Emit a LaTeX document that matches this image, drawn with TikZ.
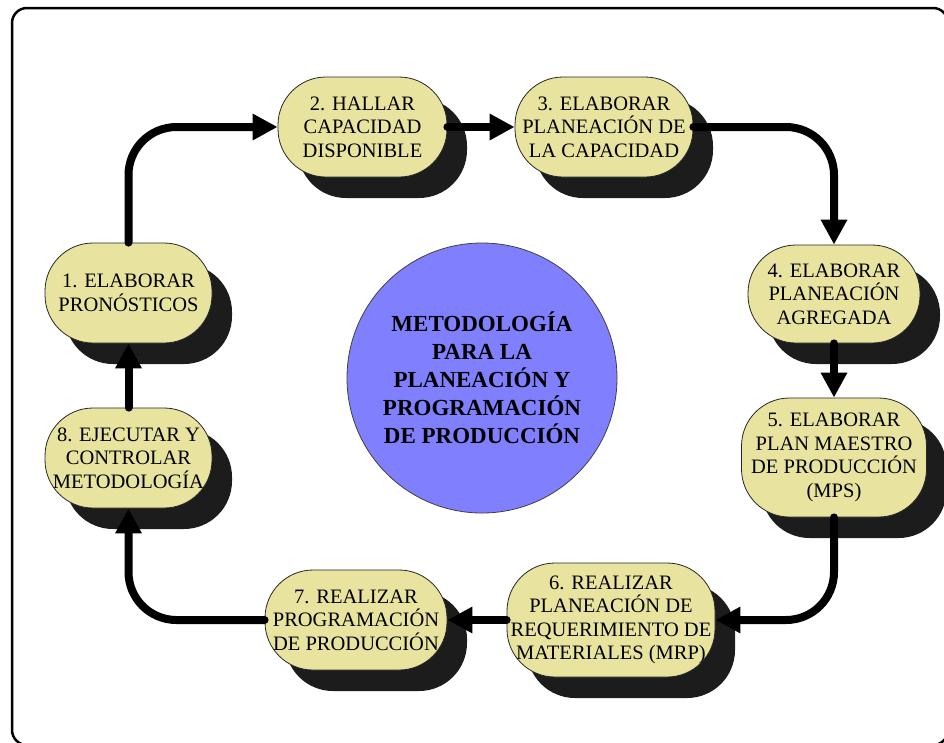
\documentclass[tikz,border=0pt]{standalone}
\usepackage{fontspec}
\setmainfont{Liberation Serif}
\usetikzlibrary{arrows.meta,shadows}
\definecolor{nodey}{HTML}{E8E4A0}
\definecolor{shad}{HTML}{1C1C1C}
\definecolor{circ}{HTML}{8080FF}
\tikzset{
  stepbox/.style={draw=black!85, line width=0.8pt, fill=nodey, rounded corners=48pt,
    inner sep=0pt, align=center, font=\fontsize{20.5}{23.5}\selectfont,
    drop shadow={shadow xshift=20pt, shadow yshift=-21pt, opacity=1, fill=shad, draw=none}},
  arr/.style={line width=8pt, line cap=round, -{Triangle[length=25pt,width=25pt]}, rounded corners=48pt},
}
\begin{document}
\begin{tikzpicture}[x=1pt,y=-1pt]
\useasboundingbox (0,0) rectangle (944,742);
\clip (0,0) rectangle (944,742);
\draw[line width=2.5pt, rounded corners=15pt] (12,8) rectangle (948,745);

\node[stepbox, minimum width=167pt, minimum height=100pt] (n1) at (128.5,293) {1. ELABORAR\\PRONÓSTICOS};
\node[stepbox, minimum width=169pt, minimum height=100pt] (n2) at (362.5,127) {2. HALLAR\\CAPACIDAD\\DISPONIBLE};
\node[stepbox, minimum width=178pt, minimum height=100pt] (n3) at (604,127) {3. ELABORAR\\PLANEACIÓN DE\\LA CAPACIDAD};
\node[stepbox, minimum width=172pt, minimum height=98pt] (n4) at (834,294) {4. ELABORAR\\PLANEACIÓN\\AGREGADA};
\node[stepbox, minimum width=185pt, minimum height=119pt] (n5) at (834,457.5) {5. ELABORAR\\PLAN MAESTRO\\DE PRODUCCIÓN\\(MPS)};
\node[stepbox, minimum width=208pt, minimum height=114pt] (n6) at (611,620) {6. REALIZAR\\PLANEACIÓN DE\\REQUERIMIENTO DE\\MATERIALES (MRP)};
\node[stepbox, minimum width=182pt, minimum height=100pt] (n7) at (356,620) {7. REALIZAR\\PROGRAMACIÓN\\DE PRODUCCIÓN};
\node[stepbox, minimum width=167pt, minimum height=100pt] (n8) at (128.5,458) {8. EJECUTAR Y\\CONTROLAR\\METODOLOGÍA};

\node[circle, minimum size=270pt, inner sep=0pt, fill=circ, draw=black!75, line width=0.8pt,
  align=center, font=\bfseries\fontsize{23}{28}\selectfont] (c) at (482,378)
  {METODOLOGÍA\\PARA LA\\PLANEACIÓN Y\\PROGRAMACIÓN\\DE PRODUCCIÓN};

\draw[arr] (n1.north) |- (n2.west);
\draw[arr] (n2.east) -- (n3.west);
\draw[arr] (n3.east) -| (n4.north);
\draw[arr] (n4.south) -- (n5.north);
\draw[arr] (n5.south) |- (n6.east);
\draw[arr] (n6.west) -- (n7.east);
\draw[arr] (n7.west) -| (n8.south);
\draw[arr] (n8.north) -- (n1.south);
\end{tikzpicture}
\end{document}
